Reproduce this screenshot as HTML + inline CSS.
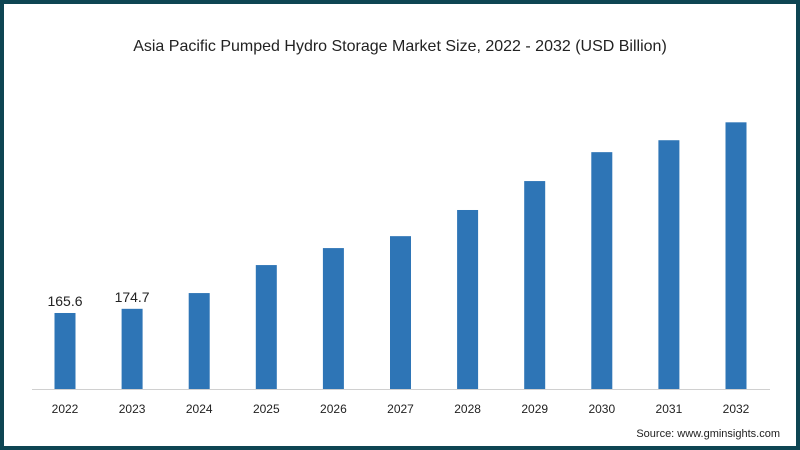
<!DOCTYPE html>
<html><head><meta charset="utf-8"><style>
html,body{margin:0;padding:0;background:#fff;}
#wrap{position:relative;width:800px;height:450px;box-sizing:border-box;border:4px solid #0e4553;background:#fff;overflow:hidden;font-family:"Liberation Sans",sans-serif;}
</style></head><body>
<div id="wrap">
<svg id="chart" width="792" height="442" viewBox="4 4 792 442">
<text x="400" y="51" text-anchor="middle" font-size="16" fill="#222">Asia Pacific Pumped Hydro Storage Market Size, 2022 - 2032 (USD Billion)</text>
<line x1="32" x2="770" y1="389.5" y2="389.5" stroke="#d0d0d0" stroke-width="1"/>
<g id="bars"></g>
<text x="780" y="437" text-anchor="end" font-size="11" fill="#222">Source: www.gminsights.com</text>
</svg>
</div>
<script>
const categories=["2022","2023","2024","2025","2026","2027","2028","2029","2030","2031","2032"];
const values=[165.6,174.7,209,270,307,333,390,453,516,542,581];
const labelValues=["165.6","174.7","","","","","","","","",""];
const baseY=389, pxPerUnit=0.459, x0=65, step=67.1, bw=21;
function xScale(i){return x0+i*step;}
function yScale(v){return baseY-v*pxPerUnit;}
const g=document.getElementById('bars');
const NS="http://www.w3.org/2000/svg";
categories.forEach((c,i)=>{
  const r=document.createElementNS(NS,'rect');
  
  
  r.setAttribute('x',xScale(i)-bw/2);r.setAttribute('y',yScale(values[i]));
  r.setAttribute('width',bw);r.setAttribute('height',baseY-yScale(values[i]));
  r.setAttribute('fill','#2e75b6');g.appendChild(r);
  const t=document.createElementNS(NS,'text');
  
  
  t.setAttribute('x',xScale(i));t.setAttribute('y',413);t.setAttribute('text-anchor','middle');
  t.setAttribute('font-size','12');t.setAttribute('fill','#222');t.textContent=c;g.appendChild(t);
  if(labelValues[i]){
    const l=document.createElementNS(NS,'text');
    
    
    l.setAttribute('x',xScale(i));l.setAttribute('y',yScale(values[i])-7);l.setAttribute('text-anchor','middle');
    l.setAttribute('font-size','14');l.setAttribute('fill','#222');l.textContent=labelValues[i];g.appendChild(l);
  }
});
</script>
</body></html>
